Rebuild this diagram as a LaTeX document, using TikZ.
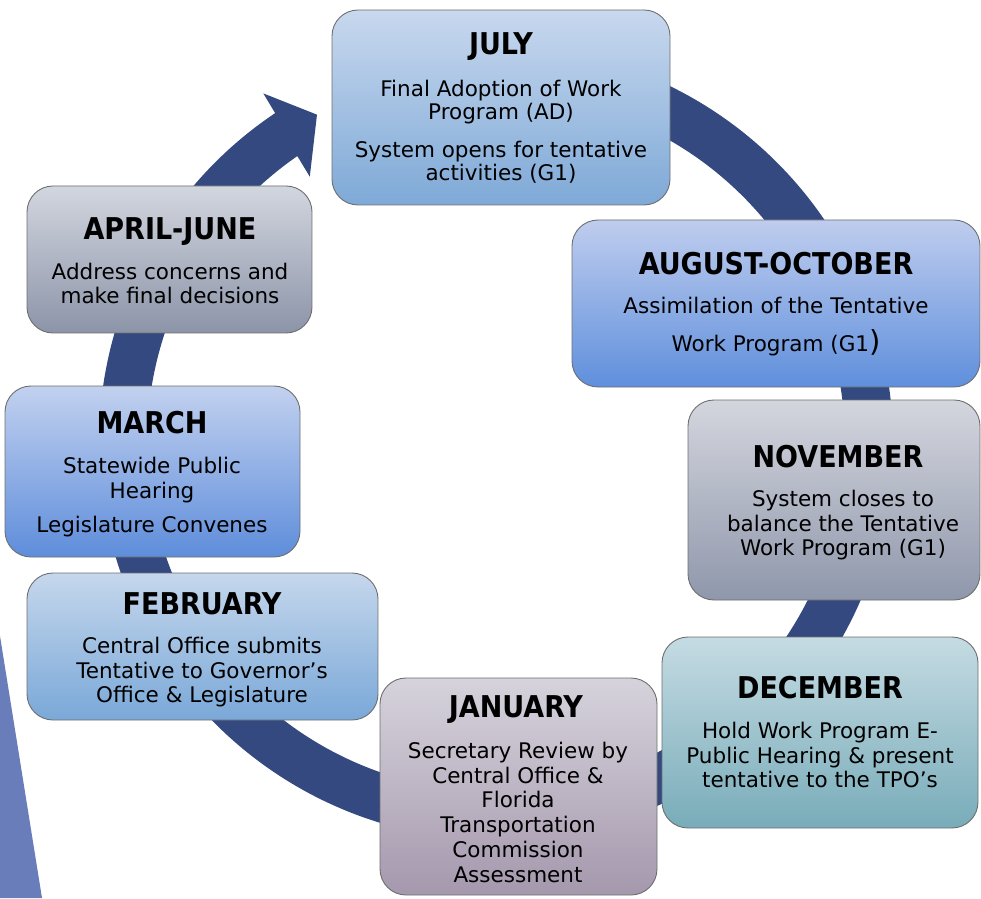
\documentclass[tikz,border=0pt]{standalone}
\usepackage{fontspec}
\setmainfont{DejaVu Sans Condensed}
\newfontfamily\bodyfont{DejaVu Sans}
\usetikzlibrary{shadings}
\definecolor{ringc}{HTML}{34497F}
\definecolor{boxline}{HTML}{6E6E6E}
\definecolor{tri}{HTML}{6A7DBB}
\definecolor{julyT}{HTML}{C8D8EE}\definecolor{julyB}{HTML}{7EA9D7}
\definecolor{augT}{HTML}{BFCDEE}\definecolor{augB}{HTML}{5F8FDC}
\definecolor{novT}{HTML}{D4D6DE}\definecolor{novB}{HTML}{8F97AB}
\definecolor{decT}{HTML}{C5DBE3}\definecolor{decB}{HTML}{78ACB9}
\definecolor{janT}{HTML}{D6D3DC}\definecolor{janB}{HTML}{A598AD}
\definecolor{febT}{HTML}{C5D7EC}\definecolor{febB}{HTML}{7AA8D8}
\definecolor{marT}{HTML}{C2D1EF}\definecolor{marB}{HTML}{5E8DDB}
\definecolor{aprT}{HTML}{D2D6DF}\definecolor{aprB}{HTML}{8C94A8}
\newcommand{\fl}{\rule{0pt}{17.5pt}}
\begin{document}
\begin{tikzpicture}[x=1pt,y=1pt,
  box/.style={draw=boxline, line width=0.9pt, rounded corners=26pt, inner sep=0pt, outer sep=0pt},
  ttl/.style={font=\fontsize{30}{34}\selectfont\bfseries, anchor=base, inner sep=0pt},
  body/.style={font=\bodyfont\fontsize{21.5}{24.8}\selectfont, align=center, anchor=north, inner sep=0pt}]
\useasboundingbox (0,0) rectangle (981,898);
% left decorative shape
\fill[tri] (0,262) -- (42,0) -- (0,0) -- cycle;
% circular arrow
\coordinate (c) at (496,455);
\begin{scope}[shift={(c)}]
\fill[ringc] (95:397) arc[start angle=95, end angle=-236.2, radius=397]
  -- (-236.35:420) -- (-241.4:374) -- (-235.04:325) -- (-235.3:349)
  arc[start angle=-235.3, end angle=95, radius=349] -- cycle;
\end{scope}
% boxes
\node[box, top color=julyT, bottom color=julyB, minimum width=338pt, minimum height=195pt] (july) at (501,790.5) {};
\node[box, top color=augT, bottom color=augB, minimum width=408pt, minimum height=167pt] (aug) at (776,594.5) {};
\node[box, top color=novT, bottom color=novB, minimum width=292pt, minimum height=200pt] (nov) at (834,398) {};
\node[box, top color=decT, bottom color=decB, minimum width=316pt, minimum height=191pt] (dec) at (820,165.5) {};
\node[box, top color=janT, bottom color=janB, minimum width=277pt, minimum height=217pt] (jan) at (518.5,111.5) {};
\node[box, top color=febT, bottom color=febB, minimum width=351pt, minimum height=147pt] (feb) at (202.5,251.5) {};
\node[box, top color=marT, bottom color=marB, minimum width=295pt, minimum height=171pt] (mar) at (152.5,426.5) {};
\node[box, top color=aprT, bottom color=aprB, minimum width=285pt, minimum height=147pt] (apr) at (169.5,638.5) {};
% titles
\node[ttl] (julyTt) at (501,843) {JULY};
\node[ttl] (augTt) at (776,623) {AUGUST-OCTOBER};
\node[ttl] (novTt) at (838,431) {NOVEMBER};
\node[ttl] (decTt) at (820,200) {DECEMBER};
\node[ttl] (janTt) at (516,181) {JANUARY};
\node[ttl] (febTt) at (202,284) {FEBRUARY};
\node[ttl] (marTt) at (152,465) {MARCH};
\node[ttl] (aprTt) at (170,658) {APRIL-JUNE};
% bodies
\node[body, font=\bodyfont\fontsize{21.5}{23.3}\selectfont] (julyBd) at (501,819) {\fl Final Adoption of Work\\Program (AD)\\[14pt]System opens for tentative\\activities (G1)};
\node[body] (augBd) at (776,602.5) {\fl Assimilation of the Tentative\\[14pt]Work Program (G1{\fontsize{29}{29}\selectfont)}};
\node[body] (novBd) at (843,409.5) {\fl System closes to\\balance the Tentative\\Work Program (G1)};
\node[body] (decBd) at (820,177.5) {\fl Hold Work Program E-\\Public Hearing \& present\\tentative to the TPO’s};
\node[body] (janBd) at (518,157.5) {\fl Secretary Review by\\Central Office \&\\Florida\\Transportation\\Commission\\Assessment};
\node[body] (febBd) at (202,262.5) {\fl Central Office submits\\Tentative to Governor’s\\Office \& Legislature};
\node[body] (marBd) at (152,442.5) {\fl Statewide Public\\Hearing\\[10pt]Legislature Convenes};
\node[body] (aprBd) at (170,636.5) {\fl Address concerns and\\make final decisions};
\end{tikzpicture}
\end{document}
